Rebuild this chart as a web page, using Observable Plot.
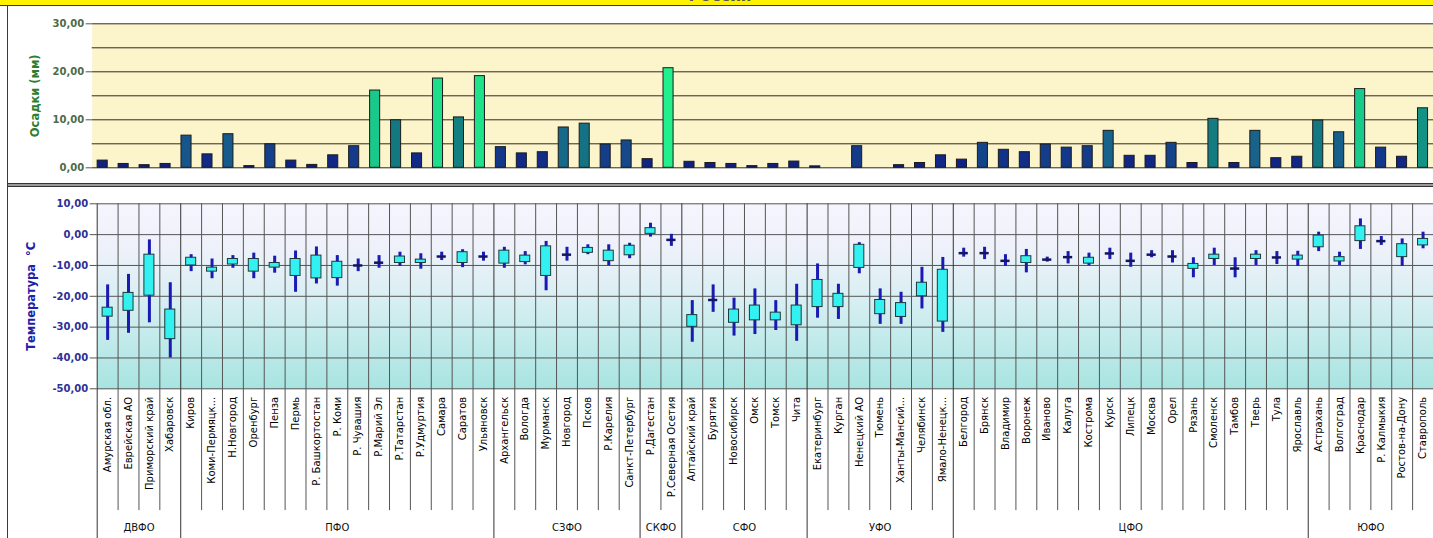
<!DOCTYPE html>
<html>
<head>
<meta charset="utf-8">
<script src="https://cdn.jsdelivr.net/npm/d3@7"></script>
<script src="https://cdn.jsdelivr.net/npm/@observablehq/plot@0.6"></script>
<style>
  html, body { margin: 0; padding: 0; background: #ffffff; }
  #chart { position: relative; width: 1433px; height: 538px; overflow: hidden; background: #ffffff; font-family: "DejaVu Sans", sans-serif; }
  #titleband { position: absolute; left: 0; top: 0; width: 1433px; height: 5px; background: #fff200; overflow: hidden; border-bottom: 1px solid #3a3a3a; }
  #titleband span { position: absolute; left: 0; width: 1440px; text-align: center; top: -14px; font-weight: bold; font-size: 16px; color: #555; }
  #leftborder { position: absolute; left: 7px; top: 6px; width: 1px; height: 532px; background: #3a3a3a; }
  #sep { position: absolute; left: 7px; top: 183px; width: 1426px; height: 2px; background: #9a9a9a; border-top: 1px solid #333; border-bottom: 1px solid #333; }
  #top { position: absolute; left: 8px; top: 7px; }
  #bottom { position: absolute; left: 8px; top: 187px; }
</style>
</head>
<body>
<div id="chart">
  <div id="titleband"><span>Россия</span></div>
  <div id="top"></div>
  <div id="sep"></div>
  <div id="bottom"></div>
  <div id="leftborder"></div>
</div>
<script>
// ---------- DATA ----------
const regions = [
  "Амурская обл.", "Еврейская АО", "Приморский край", "Хабаровск",
  "Киров", "Коми-Пермяцк...", "Н.Новгород", "Оренбург", "Пенза", "Пермь", "Р. Башкортостан", "Р. Коми", "Р. Чувашия", "Р.Марий Эл", "Р.Татарстан", "Р.Удмуртия", "Самара", "Саратов", "Ульяновск",
  "Архангельск", "Вологда", "Мурманск", "Новгород", "Псков", "Р.Карелия", "Санкт-Петербург",
  "Р.Дагестан", "Р.Северная Осетия",
  "Алтайский край", "Бурятия", "Новосибирск", "Омск", "Томск", "Чита",
  "Екатеринбург", "Курган", "Ненецкий АО", "Тюмень", "Ханты-Мансий...", "Челябинск", "Ямало-Ненецк...",
  "Белгород", "Брянск", "Владимир", "Воронеж", "Иваново", "Калуга", "Кострома", "Курск", "Липецк", "Москва", "Орел", "Рязань", "Смоленск", "Тамбов", "Тверь", "Тула", "Ярославль",
  "Астрахань", "Волгоград", "Краснодар", "Р. Калмыкия", "Ростов-на-Дону", "Ставрополь"
];
const districts = ["ДВФО", "ПФО", "СЗФО", "СКФО", "СФО", "УФО", "ЦФО", "ЮФО"];
const districtSizes = [4, 15, 7, 2, 6, 7, 17, 6];

// Осадки (мм)
const precipitation = [
  1.5, 0.8, 0.55, 0.8,
  6.7, 2.8, 7.0, 0.35, 4.9, 1.5, 0.6, 2.6, 4.5, 16.1, 9.9, 3.0, 18.6, 10.5, 19.1,
  4.3, 3.0, 3.25, 8.4, 9.2, 4.85, 5.7,
  1.8, 20.75,
  1.25, 1.0, 0.8, 0.35, 0.8, 1.3,
  0.3, 0, 4.5, 0, 0.55, 1.0, 2.6,
  1.7, 5.2, 3.75, 3.25, 4.85, 4.2, 4.5, 7.7, 2.5, 2.5, 5.2, 1.0, 10.2, 1.0, 7.7, 2.0, 2.3,
  9.85, 7.4, 16.4, 4.2, 2.3, 12.4
];

// Температура °C
const tempMax = [
  -16.3, -12.9, -1.7, -15.6,
  -6.5, -7.9, -6.8, -6.0, -7.0, -5.3, -4.0, -6.8, -7.9, -6.8, -5.7, -6.2, -5.7, -4.9, -5.7,
  -4.1, -5.5, -2.2, -4.1, -3.3, -3.3, -2.8,
  3.7, 0.1,
  -21.4, -16.3, -20.6, -17.6, -21.4, -16.1,
  -9.5, -16.1, -2.6, -17.6, -18.7, -10.6, -7.4,
  -4.4, -4.1, -6.5, -4.8, -7.3, -5.5, -6.0, -4.4, -6.0, -5.2, -5.2, -7.5, -4.4, -7.5, -5.2, -5.5, -5.4,
  0.8, -5.7, 5.1, -0.6, -1.4, 0.8
];
const tempMin = [
  -34.3, -32.0, -28.6, -40.0,
  -12.0, -14.3, -10.9, -14.3, -12.5, -18.7, -16.0, -16.7, -12.0, -10.9, -10.3, -11.2, -8.4, -10.7, -8.6,
  -10.9, -9.8, -18.2, -8.6, -6.5, -10.1, -7.8,
  -0.8, -3.8,
  -34.9, -25.2, -32.9, -32.4, -31.1, -34.6,
  -27.1, -27.5, -12.7, -29.1, -29.1, -24.1, -31.7,
  -7.3, -8.1, -10.3, -12.4, -8.9, -9.5, -10.1, -8.1, -10.6, -7.5, -9.2, -14.0, -10.0, -14.0, -10.0, -9.7, -10.3,
  -5.5, -10.0, -4.8, -3.5, -10.3, -4.6
];
const boxTop = [
  -23.7, -18.9, -6.5, -24.3,
  -7.5, -10.7, -7.9, -7.9, -9.2, -7.9, -6.8, -8.8, -10.0, -9.1, -7.1, -8.1, -7.1, -5.7, -7.1,
  -5.2, -6.8, -3.8, -6.5, -4.3, -5.2, -3.6,
  2.1, -1.7,
  -26.1, -21.2, -24.3, -23.0, -25.3, -23.0,
  -14.7, -19.2, -3.3, -21.2, -22.2, -15.6, -11.4,
  -6.0, -6.0, -8.5, -7.0, -8.1, -7.3, -7.5, -6.1, -8.5, -6.5, -7.1, -9.5, -6.5, -11.0, -6.5, -7.4, -6.8,
  -0.3, -7.3, 2.7, -2.1, -3.1, -1.4
];
const boxBottom = [
  -26.6, -24.7, -19.8, -33.9,
  -10.0, -12.0, -9.7, -12.0, -10.7, -13.4, -14.2, -14.1, -10.0, -9.1, -9.2, -9.2, -7.1, -9.2, -7.1,
  -9.4, -8.9, -13.4, -6.5, -5.9, -8.6, -6.7,
  0.25, -1.7,
  -29.9, -21.2, -28.6, -27.8, -27.8, -29.4,
  -23.5, -23.5, -10.8, -25.8, -26.7, -20.0, -28.2,
  -6.0, -6.0, -8.5, -9.2, -8.1, -7.3, -9.4, -6.1, -8.5, -6.5, -7.1, -11.1, -7.9, -11.0, -7.9, -7.4, -8.1,
  -4.1, -8.7, -2.1, -2.1, -7.3, -3.5
];

const precipTicks = [0, 10, 20, 30];
const precipGrid = [0, 5, 10, 15, 20, 25, 30];
const tempTicks = [-50, -40, -30, -20, -10, 0, 10];

// ---------- DERIVED TABLES ----------
const n = regions.length;
const precipRows = regions.map((r, i) => ({i, region: r, v: precipitation[i]})).filter(d => d.v > 0);
const tempRows = regions.map((r, i) => ({i, region: r, max: tempMax[i], min: tempMin[i], top: boxTop[i], bottom: boxBottom[i]}));
const boxRows = tempRows.filter(d => d.top !== d.bottom);
const flatRows = tempRows.filter(d => d.top === d.bottom);
const boundaries = d3.range(0, n + 1);
let acc = 0;
const districtRows = districts.map((name, k) => {
  const start = acc; acc += districtSizes[k];
  return {name, start, end: acc, mid: (start + acc) / 2};
});
const districtEdges = [0, ...districtRows.map(d => d.end)];
const innerEdges = boundaries.filter(b => !districtEdges.includes(b));

const fmt = v => v.toFixed(2).replace(".", ",").replace("−", "-");
const barColor = d3.scaleLinear()
  .domain([0, 3, 5, 7.5, 10, 12.5, 16, 21])
  .range(["#0f1a7e", "#112a88", "#14408a", "#18608c", "#137a80", "#139486", "#19c78a", "#22f28c"])
  .interpolate(d3.interpolateRgb)
  .clamp(true);

// ---------- TOP PANEL: PRECIPITATION ----------
const topPlot = Plot.plot({
  width: 1425,
  height: 176,
  marginLeft: 83.7,
  marginRight: 0,
  marginTop: 16.3,
  marginBottom: 15.7,
  style: {background: "transparent", fontFamily: "DejaVu Sans, sans-serif", overflow: "visible"},
  x: {domain: [0, n], axis: null},
  y: {domain: [0, 30], axis: null},
  marks: [
    Plot.frame({fill: "#fcf4cb", stroke: null}),
    Plot.ruleY(precipGrid, {stroke: "#2e2c22", strokeWidth: 1}),
    Plot.axisY({ticks: precipTicks, tickFormat: fmt, tickSize: 6, tickPadding: 2, fontSize: 10, fontWeight: "bold", fill: "#4e6a48", stroke: "#555", label: null}),
    Plot.rect(precipRows, {
      x1: d => d.i + 0.26, x2: d => d.i + 0.74,
      y1: () => 0, y2: d => d.v,
      fill: d => barColor(d.v), stroke: "#1b1b1b", strokeWidth: 1
    }),
    Plot.text(["Осадки (мм)"], {frameAnchor: "left", textAnchor: "middle", dx: -56.7, rotate: -90, fill: "#2d7d2d", fontWeight: "bold", fontSize: 11.5})
  ]
});
document.getElementById("top").appendChild(topPlot);

// ---------- BOTTOM PANEL: TEMPERATURE ----------
const gradientDefs = () => {
  const defs = d3.create("svg:defs");
  const g = defs.append("linearGradient").attr("id", "tempGrad")
    .attr("x1", 0).attr("y1", 0).attr("x2", 0).attr("y2", 1);
  [["0%", "#f5f5fd"], ["25%", "#eef1fa"], ["50%", "#d9eff3"], ["75%", "#c0eaea"], ["100%", "#a8e4e1"]]
    .forEach(([o, c]) => g.append("stop").attr("offset", o).attr("stop-color", c));
  return defs.node();
};

const bottomPlot = Plot.plot({
  width: 1425,
  height: 351,
  marginLeft: 88.7,
  marginRight: 0,
  marginTop: 16.3,
  marginBottom: 149.7,
  style: {background: "transparent", fontFamily: "DejaVu Sans, sans-serif", overflow: "visible"},
  x: {domain: [0, n], axis: null},
  y: {domain: [-50, 10], axis: null},
  marks: [
    gradientDefs,
    Plot.frame({fill: "url(#tempGrad)", stroke: null}),
    Plot.ruleY(tempTicks, {stroke: "#555", strokeWidth: 1}),
    Plot.ruleX(innerEdges, {x: d => d, y1: () => 10, y2: () => -89.5, stroke: "#555", strokeWidth: 1}),
    Plot.ruleX(districtEdges, {x: d => d, y1: () => 10, y2: () => -110, stroke: "#333", strokeWidth: 1}),
    Plot.axisY({ticks: tempTicks, tickFormat: fmt, tickSize: 7, tickPadding: 2, fontSize: 10, fontWeight: "bold", fill: "#2f2f96", stroke: "#555", label: null}),
    Plot.axisX({ticks: d3.range(n).map(i => i + 0.5), tickFormat: d => regions[Math.floor(d)], tickRotate: -90, tickSize: 0, tickPadding: 8, fontSize: 10, fill: "#000", stroke: "#000", strokeWidth: 0.25, label: null}),
    Plot.text(districtRows, {x: "mid", y: () => -95, text: "name", fontSize: 10, fill: "#111"}),
    Plot.ruleX(tempRows, {x: d => d.i + 0.5, y1: "min", y2: "max", stroke: "#1a1ab4", strokeWidth: 3}),
    Plot.rect(boxRows, {x1: d => d.i + 0.26, x2: d => d.i + 0.74, y1: "bottom", y2: "top", fill: "#33f1f1", stroke: "#1d3a3a", strokeWidth: 1}),
    Plot.ruleY(flatRows, {y: "top", x1: d => d.i + 0.28, x2: d => d.i + 0.72, stroke: "#15155e", strokeWidth: 2.5}),
    Plot.text(["Температура  °C"], {frameAnchor: "left", textAnchor: "middle", dx: -65.7, rotate: -90, fill: "#2020a8", fontWeight: "bold", fontSize: 11.5})
  ]
});
document.getElementById("bottom").appendChild(bottomPlot);
</script>
</body>
</html>
